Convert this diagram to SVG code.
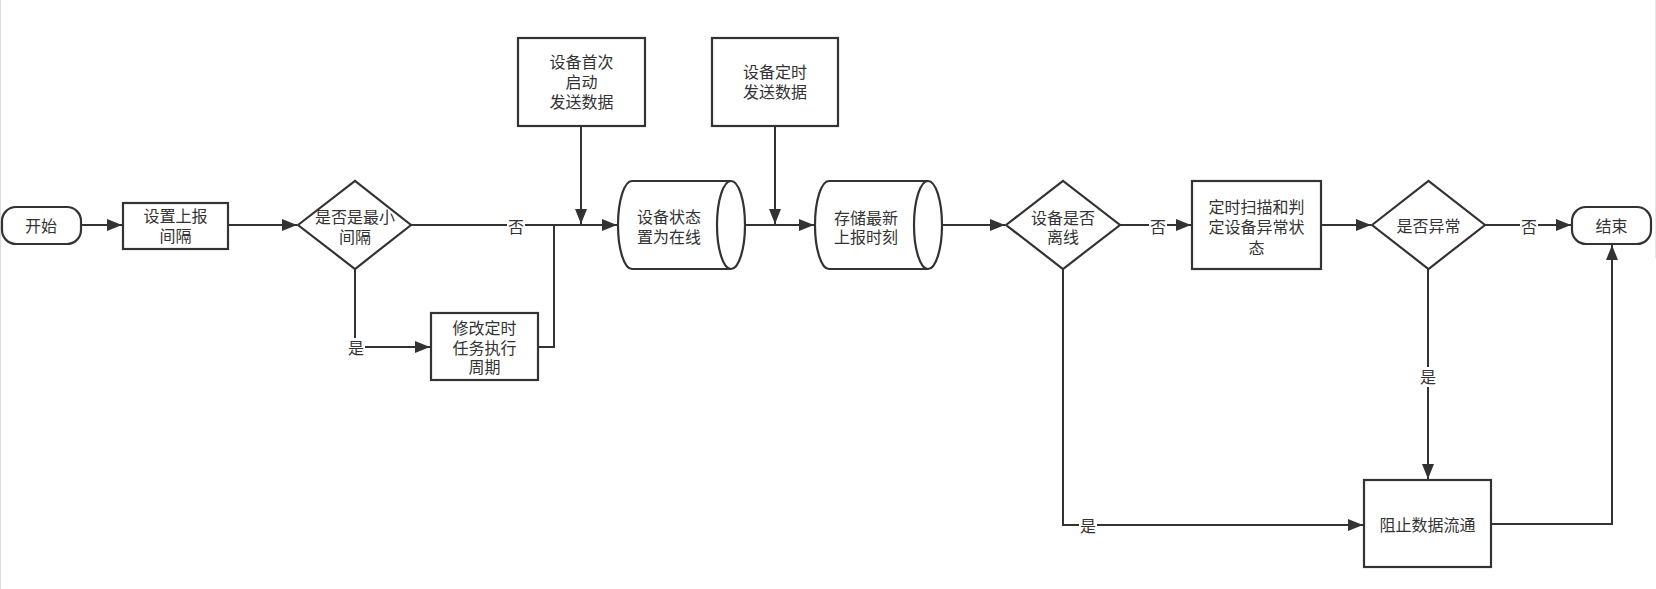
<svg xmlns="http://www.w3.org/2000/svg" width="1656" height="589" viewBox="0 0 1656 589">
<style>
.shape{fill:#fff;stroke:#333;stroke-width:2.2}
.edge{fill:none;stroke:#333;stroke-width:2}
.t{font-family:"Liberation Sans","Noto Sans CJK SC",sans-serif;font-size:16px;fill:#333;text-anchor:middle;dominant-baseline:central}
.lbl{fill:#fff;stroke:none}
</style>
<defs>
<marker id="arr" markerUnits="userSpaceOnUse" markerWidth="16" markerHeight="14" viewBox="0 0 16 14" refX="15" refY="7" orient="auto">
<path d="M0,1 L15,7 L0,13 Z" fill="#333"/>
</marker>
</defs>
<rect width="1656" height="589" fill="#fff"/>
<line x1="0.5" y1="0" x2="0.5" y2="589" stroke="#ddd" stroke-width="1"/>
<line x1="1655.5" y1="0" x2="1655.5" y2="258" stroke="#e6e6e6" stroke-width="1"/>

<g id="connectors">
<path class="edge" d="M81,225 L122,225" marker-end="url(#arr)"/>
<path class="edge" d="M228,225 L297,225" marker-end="url(#arr)"/>
<path class="edge" d="M411,225 L617,225" marker-end="url(#arr)"/>
<path class="edge" d="M355,269 L355,347 L430,347" marker-end="url(#arr)"/>
<path class="edge" d="M538,347 L554,347 L554,225"/>
<path class="edge" d="M581,126 L581,224" marker-end="url(#arr)"/>
<path class="edge" d="M745,225 L814,225" marker-end="url(#arr)"/>
<path class="edge" d="M775,126 L775,224" marker-end="url(#arr)"/>
<path class="edge" d="M943,225 L1005,225" marker-end="url(#arr)"/>
<path class="edge" d="M1120,225 L1191,225" marker-end="url(#arr)"/>
<path class="edge" d="M1321,225 L1371,225" marker-end="url(#arr)"/>
<path class="edge" d="M1485,225 L1571,225" marker-end="url(#arr)"/>
<path class="edge" d="M1063,269 L1063,525 L1363,525" marker-end="url(#arr)"/>
<path class="edge" d="M1428,269 L1428,479" marker-end="url(#arr)"/>
<path class="edge" d="M1491,524 L1612,524 L1612,245" marker-end="url(#arr)"/>
<g id="edge-labels">
<rect class="lbl" x="507" y="216" width="18" height="20"/><text class="t" x="516" y="227">否</text>
<rect class="lbl" x="347" y="338" width="18" height="20"/><text class="t" x="356" y="348">是</text>
<rect class="lbl" x="1149" y="216" width="18" height="20"/><text class="t" x="1158" y="227">否</text>
<rect class="lbl" x="1520" y="216" width="18" height="20"/><text class="t" x="1529" y="227">否</text>
<rect class="lbl" x="1079" y="515" width="18" height="20"/><text class="t" x="1088" y="526">是</text>
<rect class="lbl" x="1419" y="367" width="18" height="20"/><text class="t" x="1428" y="377">是</text>
</g>
</g>

<g id="start">
<rect class="shape" x="2" y="207" width="79" height="37" rx="14"/>
<text class="t" x="41" y="226">开始</text>
</g>
<g id="set-interval">
<rect class="shape" x="123" y="203" width="105" height="46"/>
<text class="t"><tspan x="175.5" y="216">设置上报</tspan><tspan x="175.5" y="236">间隔</tspan></text>
</g>
<g id="is-min-interval">
<path class="shape" d="M298,225 L355,181 L411,225 L355,269 Z"/>
<text class="t"><tspan x="355" y="217">是否是最小</tspan><tspan x="355" y="237">间隔</tspan></text>
</g>
<g id="modify-period">
<rect class="shape" x="431" y="313" width="107" height="67"/>
<text class="t"><tspan x="484.5" y="328">修改定时</tspan><tspan x="484.5" y="348">任务执行</tspan><tspan x="484.5" y="367">周期</tspan></text>
</g>
<g id="first-boot">
<rect class="shape" x="518" y="38" width="127" height="88"/>
<text class="t"><tspan x="581.5" y="62">设备首次</tspan><tspan x="581.5" y="82">启动</tspan><tspan x="581.5" y="102">发送数据</tspan></text>
</g>
<g id="timed-send">
<rect class="shape" x="712" y="38" width="126" height="88"/>
<text class="t"><tspan x="775" y="72">设备定时</tspan><tspan x="775" y="92">发送数据</tspan></text>
</g>
<g id="set-online">
<path class="shape" d="M632,181 L731,181 A14,44 0 0 1 731,269 L632,269 A14,44 0 0 1 632,181 Z"/>
<path class="shape" fill="none" d="M731,181 A14,44 0 0 0 731,269"/>
<text class="t"><tspan x="669" y="217">设备状态</tspan><tspan x="669" y="237">置为在线</tspan></text>
</g>
<g id="store-time">
<path class="shape" d="M829,181 L928,181 A14,44 0 0 1 928,269 L829,269 A14,44 0 0 1 829,181 Z"/>
<path class="shape" fill="none" d="M928,181 A14,44 0 0 0 928,269"/>
<text class="t"><tspan x="866" y="218">存储最新</tspan><tspan x="866" y="237">上报时刻</tspan></text>
</g>
<g id="is-offline">
<path class="shape" d="M1006,225 L1063,181 L1120,225 L1063,269 Z"/>
<text class="t"><tspan x="1063" y="218">设备是否</tspan><tspan x="1063" y="237">离线</tspan></text>
</g>
<g id="scan-judge">
<rect class="shape" x="1192" y="181" width="129" height="88"/>
<text class="t"><tspan x="1256.5" y="207">定时扫描和判</tspan><tspan x="1256.5" y="227">定设备异常状</tspan><tspan x="1256.5" y="248">态</tspan></text>
</g>
<g id="is-abnormal">
<path class="shape" d="M1372,225 L1428.5,181 L1485,225 L1428.5,269 Z"/>
<text class="t" x="1428.5" y="226">是否异常</text>
</g>
<g id="end">
<rect class="shape" x="1572" y="207" width="79" height="37" rx="14"/>
<text class="t" x="1611.5" y="226">结束</text>
</g>
<g id="block-flow">
<rect class="shape" x="1364" y="480" width="127" height="87"/>
<text class="t" x="1427.5" y="525">阻止数据流通</text>
</g>
</svg>
